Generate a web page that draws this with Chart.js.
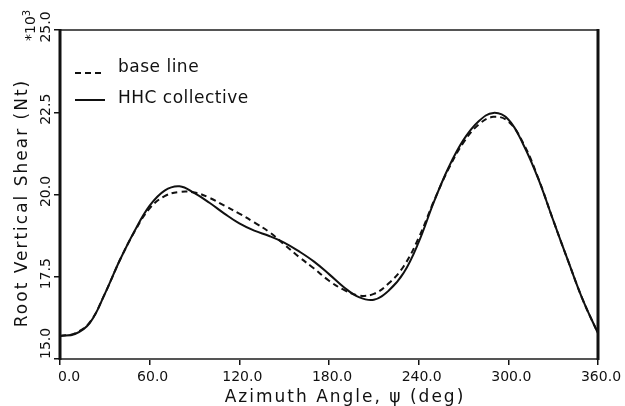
<!DOCTYPE html>
<html>
<head>
<meta charset="utf-8">
<script src="https://cdn.jsdelivr.net/npm/chart.js@4.4.1/dist/chart.umd.min.js"></script>
<style>
  html, body { margin: 0; padding: 0; background: #ffffff; }
  #c { display: block; }
</style>
</head>
<body>
<canvas id="c" width="625" height="406"></canvas>
<script>
// ---- Data ----
const angles = [0,10,20,30,40,50,60,70,80,90,100,110,120,130,140,150,160,170,180,
                190,200,210,220,230,240,250,260,270,280,290,300,310,320,330,340,350,360];
const hhcCollective = [15.70,15.76,16.10,16.98,18.00,18.90,19.66,20.12,20.25,20.04,19.75,19.42,19.12,18.90,18.74,18.54,18.27,17.96,17.58,
                       17.18,16.88,16.80,17.08,17.62,18.55,19.75,20.82,21.66,22.22,22.48,22.28,21.52,20.48,19.22,17.98,16.78,15.78];
const baseLine = [15.70,15.78,16.12,16.98,18.00,18.88,19.58,19.95,20.08,20.06,19.90,19.66,19.42,19.15,18.86,18.48,18.10,17.75,17.38,
                  17.10,16.93,16.98,17.30,17.82,18.68,19.78,20.78,21.58,22.12,22.36,22.22,21.56,20.50,19.22,17.98,16.78,15.78];
const xTicks = [0, 60, 120, 180, 240, 300, 360];
const yTicks = [15.0, 17.5, 20.0, 22.5, 25.0];
const seriesNames = ['base line', 'HHC collective'];
const xTitle = 'Azimuth Angle, \u03C8 (deg)';
const yTitle = 'Root Vertical Shear (Nt)';
const yScaleLabel = '*10';
const yScaleExp = '3';

const FONT = '"DejaVu Sans", "Liberation Sans", sans-serif';
const INK = '#111111';

function pts(ys) { return angles.map((a, i) => ({ x: a, y: ys[i] })); }

const decorPlugin = {
  id: 'decor',
  afterDraw(chart) {
    const ctx = chart.ctx;
    const a = chart.chartArea;
    const xs = chart.scales.x;
    const ys = chart.scales.y;
    ctx.save();
    ctx.setLineDash([]);
    // frame: top & bottom lighter, left & right heavy
    ctx.strokeStyle = '#555555';
    ctx.lineWidth = 2;
    ctx.beginPath();
    ctx.moveTo(a.left, a.top); ctx.lineTo(a.right, a.top);
    ctx.moveTo(a.left, a.bottom); ctx.lineTo(a.right, a.bottom);
    ctx.stroke();
    ctx.strokeStyle = INK;
    ctx.lineWidth = 3;
    ctx.beginPath();
    ctx.moveTo(a.left, a.top - 1); ctx.lineTo(a.left, a.bottom + 1);
    ctx.moveTo(a.right, a.top - 1); ctx.lineTo(a.right, a.bottom + 1);
    ctx.stroke();

    ctx.fillStyle = INK;
    ctx.font = '14px ' + FONT;

    // x tick labels
    ctx.textBaseline = 'middle';
    xTicks.forEach((v, i) => {
      const px = xs.getPixelForValue(v);
      ctx.textAlign = i === 0 ? 'left' : 'center';
      ctx.fillText(v.toFixed(1), i === 0 ? px - 2 : px + 3, 377);
    });

    // y tick labels (rotated, reading upward)
    ctx.textBaseline = 'alphabetic';
    yTicks.forEach((v, i) => {
      const py = ys.getPixelForValue(v);
      ctx.save();
      ctx.translate(50, py);
      ctx.rotate(-Math.PI / 2);
      ctx.textAlign = i === 0 ? 'left' : 'center';
      ctx.fillText(v.toFixed(1), i === 0 ? 0 : 3, 0);
      ctx.restore();
    });

    // legend (inside plot, top-left)
    ctx.lineWidth = 2;
    ctx.strokeStyle = INK;
    ctx.setLineDash([6, 4]);
    ctx.beginPath(); ctx.moveTo(75, 73); ctx.lineTo(103, 73); ctx.stroke();
    ctx.setLineDash([]);
    ctx.beginPath(); ctx.moveTo(75, 100); ctx.lineTo(105, 100); ctx.stroke();
    ctx.font = '17px ' + FONT;
    ctx.textAlign = 'left';
    ctx.textBaseline = 'alphabetic';
    ctx.letterSpacing = '0.5px';
    ctx.fillText(seriesNames[0], 118, 72);
    ctx.fillText(seriesNames[1], 118, 103);

    // x axis title
    ctx.letterSpacing = '2px';
    ctx.textAlign = 'center';
    ctx.fillText(xTitle, 345, 402);

    // y axis title
    ctx.save();
    ctx.translate(27, 203);
    ctx.rotate(-Math.PI / 2);
    ctx.fillText(yTitle, 0, 0);
    ctx.restore();

    // *10^3 multiplier
    ctx.letterSpacing = '0px';
    ctx.save();
    ctx.translate(35, 41);
    ctx.rotate(-Math.PI / 2);
    ctx.textAlign = 'left';
    ctx.font = '14px ' + FONT;
    ctx.fillText(yScaleLabel, 0, 0);
    const w = ctx.measureText(yScaleLabel).width;
    ctx.font = '10px ' + FONT;
    ctx.fillText(yScaleExp, w, -5);
    ctx.restore();

    ctx.restore();
  }
};

new Chart(document.getElementById('c'), {
  type: 'line',
  data: {
    datasets: [
      {
        label: seriesNames[0],
        data: pts(baseLine),
        borderColor: INK,
        borderWidth: 2,
        borderDash: [6, 4],
        pointRadius: 0,
        fill: false,
        tension: 0.4
      },
      {
        label: seriesNames[1],
        data: pts(hhcCollective),
        borderColor: INK,
        borderWidth: 2,
        pointRadius: 0,
        fill: false,
        tension: 0.4
      }
    ]
  },
  options: {
    responsive: false,
    animation: false,
    devicePixelRatio: 1,
    layout: { padding: { left: 0, right: 27, top: 30, bottom: 0 } },
    plugins: {
      legend: { display: false },
      tooltip: { enabled: false },
      title: { display: false }
    },
    scales: {
      x: {
        type: 'linear',
        min: 0,
        max: 360,
        afterBuildTicks(scale) { scale.ticks = xTicks.map(v => ({ value: v })); },
        afterFit(scale) { scale.height = 47; },
        border: { display: false },
        grid: { drawOnChartArea: false, drawTicks: true, tickLength: 6, color: INK, lineWidth: 1.5 },
        ticks: { display: false },
        title: { display: false }
      },
      y: {
        type: 'linear',
        min: 15,
        max: 25,
        afterBuildTicks(scale) { scale.ticks = yTicks.map(v => ({ value: v })); },
        afterFit(scale) { scale.width = 60; },
        border: { display: false },
        grid: { drawOnChartArea: false, drawTicks: true, tickLength: 6, color: INK, lineWidth: 1.5 },
        ticks: { display: false },
        title: { display: false }
      }
    }
  },
  plugins: [decorPlugin]
});
</script>
</body>
</html>
